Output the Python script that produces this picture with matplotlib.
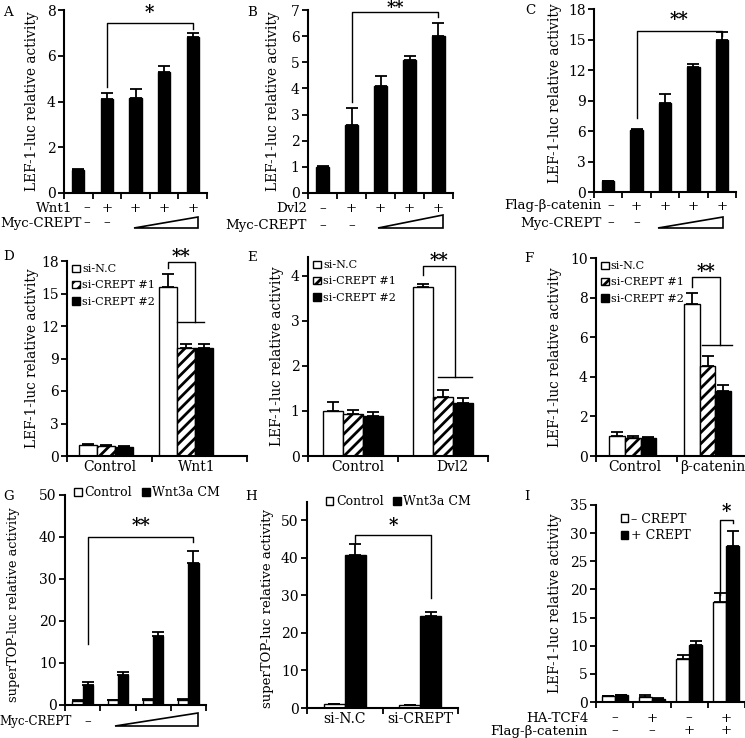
import numpy as np
import matplotlib
matplotlib.use("Agg")
import matplotlib.pyplot as plt
import matplotlib.transforms as mtransforms
from matplotlib.patches import Patch, Polygon

plt.rcParams['font.family'] = ['DejaVu Serif']
plt.rcParams['hatch.linewidth'] = 2.0
plt.rcParams['hatch.color'] = 'black'

# ---- data ----
# A: Wnt1 + increasing Myc-CREPT
a_vals = [1.0, 4.1, 4.15, 5.3, 6.8]
a_err = [0.03, 0.28, 0.38, 0.25, 0.18]
a_row1 = ['–', '+', '+', '+', '+']
# B: Dvl2
b_vals = [1.0, 2.6, 4.1, 5.1, 6.0]
b_err = [0.03, 0.65, 0.37, 0.15, 0.5]
b_row1 = ['–', '+', '+', '+', '+']
# C: Flag-b-catenin
c_vals = [1.05, 6.1, 8.75, 12.25, 15.0]
c_err = [0.05, 0.1, 0.9, 0.3, 0.7]
c_row1 = ['–', '+', '+', '+', '+']
myc_row = ['–', '–']

si_labels = ['si-N.C', 'si-CREPT #1', 'si-CREPT #2']
d_groups = ['Control', 'Wnt1']
d_vals = [[1.0, 15.6], [0.9, 10.0], [0.85, 10.0]]
d_err = [[0.15, 1.2], [0.07, 0.35], [0.05, 0.35]]
e_groups = ['Control', 'Dvl2']
e_vals = [[1.0, 3.75], [0.93, 1.3], [0.88, 1.17]]
e_err = [[0.2, 0.08], [0.1, 0.17], [0.1, 0.12]]
f_groups = ['Control', 'β-catenin']
f_vals = [[1.0, 7.7], [0.93, 4.55], [0.9, 3.3]]
f_err = [[0.2, 0.55], [0.1, 0.5], [0.08, 0.3]]

cm_labels = ['Control', 'Wnt3a CM']
g_ctrl = [1.0, 1.2, 1.3, 1.3]
g_ctrl_err = [0.1, 0.1, 0.1, 0.1]
g_wnt = [4.8, 7.1, 16.5, 33.8]
g_wnt_err = [0.6, 0.8, 0.9, 2.8]
h_groups = ['si-N.C', 'si-CREPT']
h_ctrl = [1.0, 0.8]
h_ctrl_err = [0.1, 0.1]
h_wnt = [40.8, 24.6]
h_wnt_err = [2.9, 1.0]

crept_labels = ['– CREPT', '+ CREPT']
i_minus = [1.0, 0.8, 7.6, 17.8]
i_minus_err = [0.1, 0.4, 0.7, 1.5]
i_plus = [1.2, 0.6, 10.1, 27.7]
i_plus_err = [0.1, 0.1, 0.7, 2.6]
i_tcf = ['–', '+', '–', '+']
i_cat = ['–', '–', '+', '+']

W, H = 745, 738
fig = plt.figure(figsize=(W / 100, H / 100), dpi=100)
FS = 9.6       # row labels
TFS = 10       # tick labels
LFS = 9.8      # y labels
GFS = 8        # si legends
GFS2 = 9       # bottom-row legends
YL = 'LEF-1-luc relative activity'
YL2 = 'superTOP-luc relative activity'


def px(x):
    return x / W


def py(y):
    return 1 - y / H


def mk_ax(left, right, y0, ytop, ylim, yticks, xlim, xt=None):
    ax = fig.add_axes([left / W, 1 - y0 / H, (right - left) / W, (y0 - ytop) / H])
    for s in ['top', 'right']:
        ax.spines[s].set_visible(False)
    for s in ['left', 'bottom']:
        ax.spines[s].set_linewidth(1.5)
    ax.set_ylim(*ylim)
    ax.set_xlim(*xlim)
    ax.set_yticks(yticks)
    ax.tick_params(axis='y', direction='out', length=4, width=1.3, labelsize=TFS, pad=2)
    ax.tick_params(axis='x', direction='out', length=4, width=1.3, labelsize=TFS)
    # x ticks sit on category boundaries
    if xt is None:
        xt = np.arange(xlim[0], xlim[1] + 0.01, 1.0)
    ax.set_xticks(xt)
    ax.set_xticklabels([])
    ax._box = (left, right, y0, ytop)
    return ax


def ylabel(ax, text, xpx, dy=0, fs=LFS):
    left, right, y0, ytop = ax._box
    fig.text(px(xpx), py((y0 + ytop) / 2 + dy), text, rotation=90, ha='center', va='center', fontsize=fs)


def group_labels(ax, xs, labels):
    ax.set_xticks(xs, minor=True)
    ax.set_xticklabels(labels, minor=True)
    ax.tick_params(axis='x', which='minor', length=0, labelsize=TFS, pad=3)


def row_text(ax, xs, signs, ypx):
    tr = mtransforms.blended_transform_factory(ax.transData, fig.transFigure)
    for x, s in zip(xs, signs):
        ax.text(x, py(ypx), s, transform=tr, ha='center', va='center', fontsize=FS, clip_on=False)


def wedge(ax, x1, x2, ytop, ybot):
    tr = mtransforms.blended_transform_factory(ax.transData, fig.transFigure)
    ax.add_patch(Polygon([[x1, py(ybot)], [x2, py(ybot)], [x2, py(ytop)]], closed=True,
                         facecolor='white', edgecolor='black', lw=1.2, transform=tr, clip_on=False))


def bracket(ax, x1, x2, ytop, yl, yr, stars, ystar, fs=13):
    ax.plot([x1, x1, x2, x2], [yl, ytop, ytop, yr], color='black', lw=1, clip_on=False)
    ax.text((x1 + x2) / 2, ystar, stars, ha='center', va='center', fontsize=fs,
            fontweight='bold', clip_on=False)


def letter(t, xpx, ypx):
    fig.text(px(xpx), py(ypx), t, fontsize=FS, ha='left', va='center')


def two_legend(ax, labels, anchor, ncol):
    hs = [Patch(facecolor='white', edgecolor='black', label=labels[0]),
          Patch(facecolor='black', edgecolor='black', label=labels[1])]
    ax.legend(handles=hs, loc='upper left', bbox_to_anchor=anchor, ncol=ncol, frameon=False,
              fontsize=GFS2, handlelength=0.6, handleheight=0.6, handletextpad=0.2,
              columnspacing=0.8, labelspacing=0.3, borderaxespad=0.2, borderpad=0.1)


EK = dict(ecolor='black', elinewidth=1.3, capsize=4, capthick=1.3)

# ---------- top row ----------
panels_top = [
    dict(L='A', vals=a_vals, err=a_err, row1=a_row1, r1lab='Wnt1', box=(64, 207, 193, 10),
         ylim=(0, 8), yt=[0, 2, 4, 6, 8], br=(7.42, 4.64, 7.15), stars='*', ystar=7.85,
         lpos=(3, 12), ylx=32, r1=(72, 208), r2=(82, 223), tri=(1.95, 4.2, 217, 228), s0=0.28, dy=0),
    dict(L='B', vals=b_vals, err=b_err, row1=b_row1, r1lab='Dvl2', box=(308, 453, 193, 10),
         ylim=(0, 7), yt=list(range(8)), br=(6.93, 3.5, 6.74), stars='**', ystar=7.08,
         lpos=(247, 12), ylx=273, r1=(307, 209), r2=(307, 226), tri=(1.91, 4.15, 215, 228), s0=0.0, dy=0),
    dict(L='C', vals=c_vals, err=c_err, row1=c_row1, r1lab='Flag-β-catenin', box=(594, 736, 192, 9),
         ylim=(0, 18), yt=[0, 3, 6, 9, 12, 15, 18], br=(15.8, 7.3, 15.3), stars='**', ystar=16.9,
         lpos=(525, 10), ylx=555, r1=(602, 206), r2=(602, 223), tri=(1.75, 4.05, 217, 228), s0=0.1, dy=-7),
]
for p in panels_top:
    ax = mk_ax(*p['box'], p['ylim'], p['yt'], (-0.5, 4.5))
    x = np.arange(len(p['vals']))
    ax.bar(x, p['vals'], width=0.43, color='black', edgecolor='black',
           yerr=[np.zeros(len(x)), p['err']], error_kw=EK)
    ylabel(ax, YL, p['ylx'], dy=p['dy'])
    bracket(ax, 1, 4, *p['br'], p['stars'], p['ystar'], fs=12 if p['L'] == 'B' else 13)
    fig.text(px(p['r1'][0]), py(p['r1'][1]), p['r1lab'], ha='right', va='center', fontsize=FS)
    fig.text(px(p['r2'][0]), py(p['r2'][1]), 'Myc-CREPT', ha='right', va='center', fontsize=FS)
    xs = x.astype(float)
    xs[0] += p['s0']
    row_text(ax, xs, p['row1'], p['r1'][1])
    row_text(ax, xs[:2], myc_row, p['r2'][1])
    wedge(ax, *p['tri'])
    letter(p['L'], *p['lpos'])

# ---------- middle row ----------
panels_mid = [
    dict(L='D', groups=d_groups, vals=d_vals, err=d_err, box=(67, 247, 456, 261), ylim=(0, 18),
         yt=[0, 3, 6, 9, 12, 15, 18], xlim=(-0.49, 1.77), xt=[-0.49, 0.58, 1.77], w=0.226,
         glab=[0.05, 1.14], br=(17.9, 17.35, 12.4), rl=1.12, hz=(0.89, 1.23), ystar=18.4,
         lpos=(3, 256), ylx=32),
    dict(L='E', groups=e_groups, vals=e_vals, err=e_err, box=(308, 488, 456, 257), ylim=(0, 4.42),
         yt=[0, 1, 2, 3, 4], xlim=(-0.5, 1.5), xt=[-0.5, 0.5, 1.5], w=0.22,
         glab=[0.05, 1.1], br=(4.21, 4.02, 1.75), rl=1.13, hz=(0.94, 1.32), ystar=4.33,
         lpos=(247, 257), ylx=277),
    dict(L='F', groups=f_groups, vals=f_vals, err=f_err, box=(596, 745, 456, 258), ylim=(0, 10),
         yt=[0, 2, 4, 6, 8, 10], xlim=(-0.49, 1.5), xt=[-0.49, 0.59], w=0.21,
         glab=[0.03, 1.07], br=(9.04, 8.56, 5.6), rl=1.16, hz=(0.92, 1.32), ystar=9.3,
         lpos=(524, 259), ylx=555),
]
faces = ['white', 'white', 'black']
hatches = [None, '///', None]
for p in panels_mid:
    ax = mk_ax(*p['box'], p['ylim'], p['yt'], p['xlim'], p['xt'])
    x = np.arange(2)
    w = p['w']
    handles = []
    for j in range(3):
        ax.bar(x + (j - 1) * w, p['vals'][j], width=w, color=faces[j], edgecolor='black', lw=1,
               hatch=hatches[j], yerr=[np.zeros(2), p['err'][j]], error_kw=EK)
        handles.append(Patch(facecolor=faces[j], edgecolor='black', hatch=hatches[j], label=si_labels[j]))
    group_labels(ax, p['glab'], p['groups'])
    ylabel(ax, YL, p['ylx'])
    ytop, yl, yr = p['br']
    ax.plot([1 - w, 1 - w, p['rl'], p['rl']], [yl, ytop, ytop, yr], color='black', lw=1, clip_on=False)
    ax.plot(list(p['hz']), [yr, yr], color='black', lw=1, clip_on=False)
    ax.text((1 - w + p['rl']) / 2, p['ystar'], '**', ha='center', va='center', fontsize=13,
            fontweight='bold')
    ax.legend(handles=handles, loc='upper left', bbox_to_anchor=(0.01, 1.0), frameon=False,
              fontsize=GFS, handlelength=0.7, handleheight=0.7, handletextpad=0.2,
              labelspacing=0.55, borderaxespad=0.2, borderpad=0.1)
    letter(p['L'], *p['lpos'])

# ---------- bottom row ----------
# G
ax = mk_ax(65, 206, 705, 495, (0, 50), [0, 10, 20, 30, 40, 50], (-0.5, 3.5))
x = np.arange(4)
w = 0.29
ax.bar(x - w / 2, g_ctrl, width=w, color='white', edgecolor='black', lw=1,
       yerr=[np.zeros(4), g_ctrl_err], error_kw=EK)
ax.bar(x + w / 2, g_wnt, width=w, color='black', edgecolor='black', lw=1,
       yerr=[np.zeros(4), g_wnt_err], error_kw=EK)
ylabel(ax, YL2, 14, dy=5, fs=9.3)
bracket(ax, w / 2, 3 + w / 2, 40.1, 14.5, 38.7, '**', 42.6)
fig.text(px(72), py(722), 'Myc-CREPT', ha='right', va='center', fontsize=8.6)
row_text(ax, [0.15], ['–'], 722)
wedge(ax, 0.92, 3.27, 713, 726)
two_legend(ax, cm_labels, (0.04, 1.06), 2)
letter('G', 3, 497)

# H
ax = mk_ax(307, 458, 708, 502, (0, 54.8), [0, 10, 20, 30, 40, 50], (-0.5, 1.5))
x = np.arange(2)
w = 0.28
ax.bar(x - w / 2, h_ctrl, width=w, color='white', edgecolor='black', lw=1,
       yerr=[np.zeros(2), h_ctrl_err], error_kw=EK)
ax.bar(x + w / 2, h_wnt, width=w, color='black', edgecolor='black', lw=1,
       yerr=[np.zeros(2), h_wnt_err], error_kw=EK)
ax.set_xticks([-0.5, 0.5, 1.5])
group_labels(ax, x, h_groups)
ylabel(ax, YL2, 267, dy=3, fs=9.5)
bracket(ax, w / 2, 1 + w / 2, 46.0, 43.8, 29.2, '*', 48.3)
two_legend(ax, cm_labels, (0.1, 1.05), 2)
letter('H', 245, 497)

# I
ax = mk_ax(596, 745, 702, 505, (0, 35), [0, 5, 10, 15, 20, 25, 30, 35], (-0.5, 3.5))
x = np.arange(4)
w = 0.35
ax.bar(x - w / 2, i_minus, width=w, color='white', edgecolor='black', lw=1,
       yerr=[np.zeros(4), i_minus_err], error_kw=EK)
ax.bar(x + w / 2, i_plus, width=w, color='black', edgecolor='black', lw=1,
       yerr=[np.zeros(4), i_plus_err], error_kw=EK)
ylabel(ax, YL, 555)
bracket(ax, 3 - w / 2, 3 + w / 2, 32.4, 19.0, 31.8, '*', 33.8)
fig.text(px(588), py(718), 'HA-TCF4', ha='right', va='center', fontsize=FS)
fig.text(px(588), py(731), 'Flag-β-catenin', ha='right', va='center', fontsize=FS)
row_text(ax, x, i_tcf, 718)
row_text(ax, x, i_cat, 731)
two_legend(ax, crept_labels, (0.14, 0.98), 1)
letter('I', 524, 497)

fig.savefig('out.png', dpi=100)
